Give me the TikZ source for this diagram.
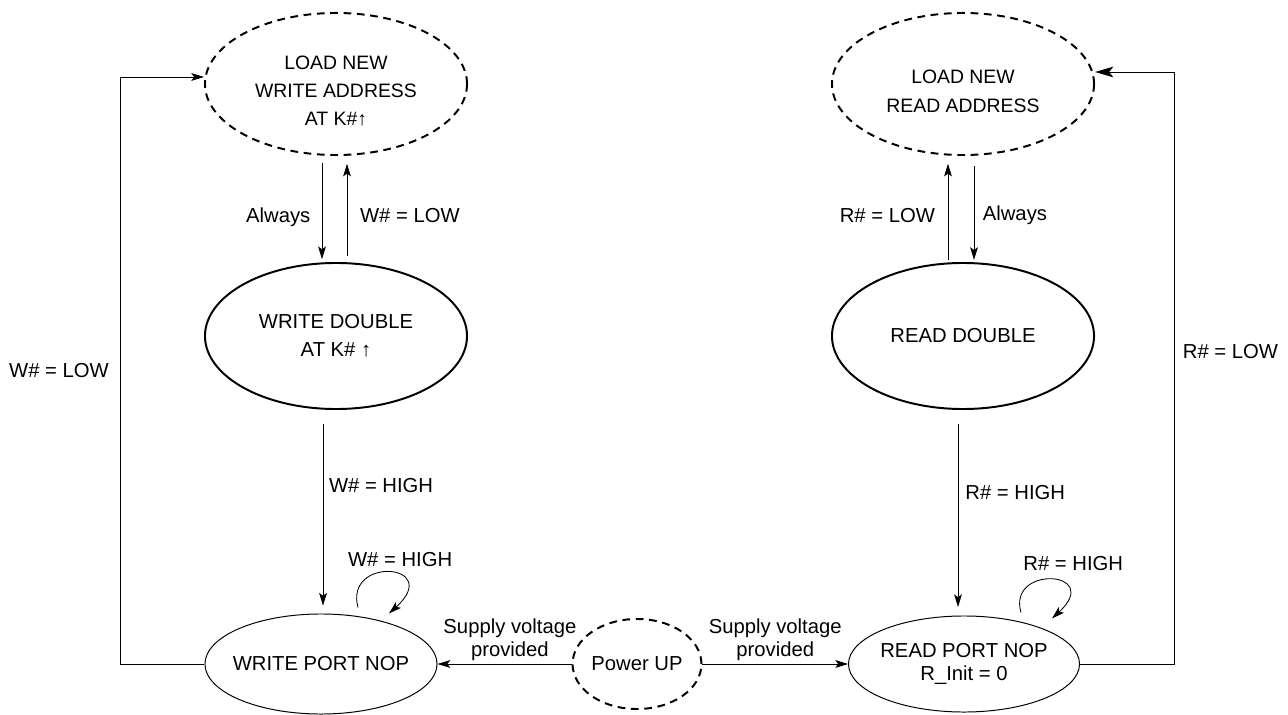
\documentclass[tikz,border=0pt]{standalone}
\usepackage{fontspec}
\setmainfont{Liberation Sans}
\usetikzlibrary{shapes.geometric,arrows.meta}

\begin{document}
\begin{tikzpicture}[x=0.025cm,y=-0.025cm,
		oval/.style={ellipse, draw=black, inner sep=0pt, align=center, font=\fontsize{14.4}{20}\selectfont},
		loadst/.style={oval, line width=1.4pt, dash pattern=on 5.5pt off 4pt, minimum width=6.55cm, minimum height=3.55cm, font=\fontsize{13.8}{20}\selectfont},
		dblst/.style={oval, line width=1.4pt, minimum width=6.55cm, minimum height=3.65cm},
		portst/.style={oval, line width=0.7pt, inner xsep=-6pt, minimum width=5.8cm, minimum height=2.5cm, font=\fontsize{14.4}{16.4}\selectfont},
		arr/.style={line width=0.6pt, -{Stealth[length=9pt,width=5.5pt,inset=2pt]}},
		arrbig/.style={line width=0.6pt, -{Stealth[length=13pt,width=7.5pt,inset=3pt]}},
		lbl/.style={font=\fontsize{14.4}{16.4}\selectfont, inner sep=2pt, align=center}]
	\useasboundingbox (0,0) rectangle (1288,715);

	% states
	\node[loadst] (ldW) at (336,84) {\rule{0pt}{20pt}LOAD NEW\\WRITE ADDRESS\\AT K\#↑};
	\node[loadst] (ldR) at (963,84) {\rule{0pt}{20pt}LOAD NEW\\READ ADDRESS};
	\node[dblst] (wrD) at (336,336) {WRITE DOUBLE\\AT K\# ↑};
	\node[dblst] (rdD) at (963,336) {READ DOUBLE};
	\node[portst] (wrP) at (321,664) {WRITE PORT NOP};
	\node[portst, inner xsep=-8pt, minimum width=5.775cm, minimum height=2.4cm] (rdP) at (964,664) {READ PORT NOP\\R\_Init = 0};
	\node[portst, inner xsep=0pt, line width=1.4pt, dash pattern=on 5.5pt off 4pt, minimum width=3.2cm, minimum height=2.25cm] (pwr) at (637,664) {Power UP};

	% write side
	\draw[arr, shorten <=5pt, shorten >=2pt] ([shift={(-14,0)}]ldW.south) -- ([shift={(-14,0)}]wrD.north)
		node[lbl, pos=0.58, left=6pt] {Always};
	\draw[arr, shorten <=4pt, shorten >=5.5pt] ([shift={(11,0)}]wrD.north) -- ([shift={(11,0)}]ldW.south)
		node[lbl, pos=0.44, right=7pt] {W\# = LOW};
	\draw[arr, shorten <=10pt, shorten >=5.6pt] ([shift={(-13,0)}]wrD.south) -- ([shift={(2,0)}]wrP.north)
		node[lbl, pos=0.37, right=2pt] {W\# = HIGH};
	\draw[arr] ([shift={(37,-6)}]wrP.north) .. controls +(-14,-52) and +(55,-50) .. ([shift={(68,0)}]wrP.north)
		node[lbl, pos=0.5, above=2pt, xshift=8pt] {W\# = HIGH};
	\draw[arr] (wrP.west) -- ++(-84,0) |- ([shift={(0,-7)}]ldW.west)
		node[lbl, pos=0.25, left=6pt] {W\# = LOW};

	% read side
	\draw[arr, shorten <=1.5pt, shorten >=5.5pt] ([shift={(-15,0)}]rdD.north) -- ([shift={(-15,0)}]ldR.south)
		node[lbl, pos=0.44, left=7pt] {R\# = LOW};
	\draw[arr, shorten <=7pt, shorten >=1.5pt] ([shift={(11,0)}]ldR.south) -- ([shift={(11,0)}]rdD.north)
		node[lbl, pos=0.56, right=4pt] {Always};
	\draw[arr, shorten <=10pt, shorten >=6pt] ([shift={(-5,0)}]rdD.south) -- ([shift={(-6,0)}]rdP.north)
		node[lbl, pos=0.4, right=3pt] {R\# = HIGH};
	\draw[arr] ([shift={(57,-3)}]rdP.north) .. controls +(-14,-48) and +(52,-48) .. ([shift={(88,3)}]rdP.north)
		node[lbl, pos=0.5, above=4pt, xshift=16pt] {R\# = HIGH};
	\draw[arrbig] (rdP.east) -- ++(94,0) |- ([shift={(0,-12)}]ldR.east)
		node[lbl, pos=0.264, right=4pt] {R\# = LOW};

	% power up
	\draw[arr] (pwr.west) -- (wrP.east)
		node[lbl, pos=0.46, above] {Supply voltage\\provided};
	\draw[arr] (pwr.east) -- (rdP.west)
		node[lbl, midway, above] {Supply voltage\\provided};
\end{tikzpicture}
\end{document}
